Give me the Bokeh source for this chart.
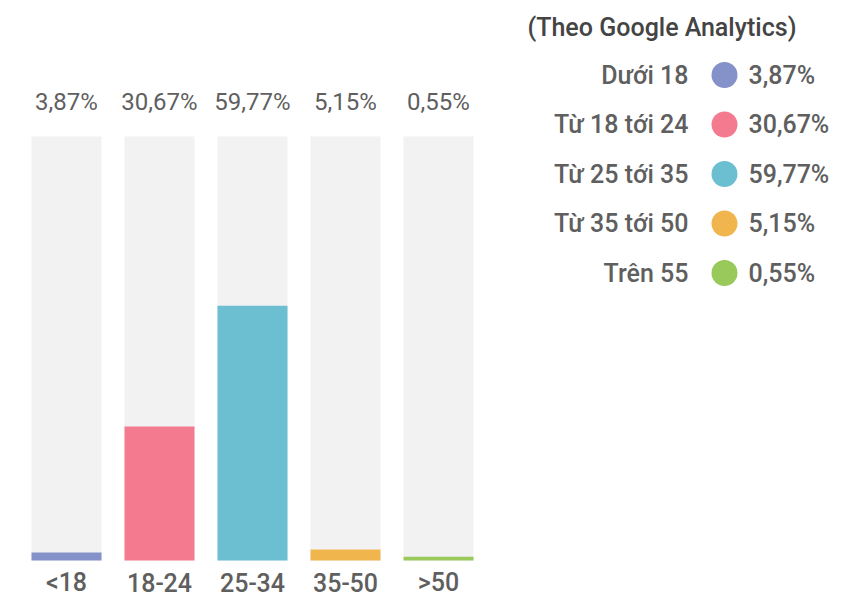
from bokeh.plotting import figure
from bokeh.layouts import row
from bokeh.models import Range1d, ColumnDataSource
from bokeh.core.properties import value
from bokeh.embed import file_html
from bokeh.resources import INLINE

# ---- data ----
age_groups = ["<18", "18-24", "25-34", "35-50", ">50"]
value_labels = ["3,87%", "30,67%", "59,77%", "5,15%", "0,55%"]
bar_heights = [1.9, 31.6, 60.1, 2.6, 0.9]      # as drawn in the picture (percent of full bar)
full_height = [100, 100, 100, 100, 100]
legend_names = ["Dưới 18", "Từ 18 tới 24", "Từ 25 tới 35", "Từ 35 tới 50", "Trên 55"]
colors = ["#8591C9", "#F47B8F", "#6CBFD1", "#F0B54D", "#98C95A"]
legend_title = "(Theo Google Analytics)"

FONT = "Roboto"
MED = "Roboto Medium, Roboto"
TXT = "#5f5f5f"

# ---- left: bars ----
LW, H = 508, 597
step = 93.0          # px per category
x0 = 66.0            # canvas px of first bar centre
ppu = 4.24           # px per percent
base = 560.0         # canvas px (from top) of zero line
x_start = -x0 / step
y_start = -(H - base) / ppu
y_end = base / ppu

p = figure(width=LW, height=H, output_backend="svg", toolbar_location=None,
           x_range=Range1d(x_start, x_start + LW / step),
           y_range=Range1d(y_start, y_end), min_border=0)
p.axis.visible = False
p.grid.visible = False
p.outline_line_color = None
p.background_fill_color = "white"
p.border_fill_color = "white"

idx = list(range(len(age_groups)))
src = ColumnDataSource(dict(x=idx, full=full_height, h=bar_heights, c=colors,
                            lab=value_labels, cat=age_groups))
bw = 70 / step
p.vbar(x="x", top="full", bottom=0, width=bw, source=src, fill_color="#F2F2F2", line_color=None)
p.vbar(x="x", top="h", bottom=0, width=bw, source=src, fill_color="c", line_color=None)

top_y = (base - 101) / ppu
p.text(x="x", y=top_y, text="lab", source=src, text_align="center", text_baseline="middle",
       text_font=value(FONT), text_font_size="24px", text_color=TXT)
bot_y = -(582 - base) / ppu
p.text(x="x", y=bot_y, text="cat", source=src, text_align="center", text_baseline="middle",
       text_font=value(MED), text_font_size="25px", text_color=TXT)

# ---- right: legend ----
RW = 862 - LW
q = figure(width=RW, height=H, output_backend="svg", toolbar_location=None,
           x_range=Range1d(0, RW), y_range=Range1d(H, 0), min_border=0)
q.axis.visible = False
q.grid.visible = False
q.outline_line_color = None

q.text(x=[19], y=[27], text=[legend_title], text_align="left", text_baseline="middle",
       text_font=value(MED), text_font_size="25px", text_color="#444444")

ys = [74.5 + 49.5 * i for i in idx]
lsrc = ColumnDataSource(dict(y=ys, name=legend_names, lab=value_labels, c=colors))
q.text(x=180, y="y", text="name", source=lsrc, text_align="right", text_baseline="middle",
       text_font=value(MED), text_font_size="25px", text_color=TXT)
q.scatter(x=216, y="y", size=26, marker="circle", fill_color="c", line_color=None, source=lsrc)
q.text(x=240, y="y", text="lab", source=lsrc, text_align="left", text_baseline="middle",
       text_font=value(MED), text_font_size="25px", text_color=TXT)

layout = row(p, q, spacing=0)
open("out.html", "w").write(file_html(layout, INLINE))
